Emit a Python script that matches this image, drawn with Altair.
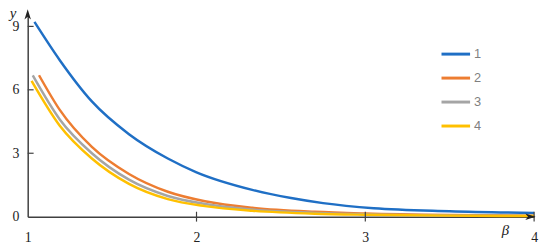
import altair as alt
import pandas as pd

series_names = ["1", "2", "3", "4"]
colors = ["#1F6FC5", "#ED7D31", "#A5A5A5", "#FFC000"]

beta_1 = [1.04, 1.19, 1.38, 1.6, 1.83, 2.0, 2.33, 2.56, 2.75, 3.05, 3.5, 4.0]
y_1 = [9.21, 7.4, 5.45, 3.9, 2.75, 2.1, 1.27, 0.88, 0.64, 0.4, 0.26, 0.18]

beta_2 = [1.067, 1.19, 1.38, 1.6, 1.83, 2.05, 2.33, 2.7, 3.0, 3.5, 4.0]
y_2 = [6.69, 5.05, 3.3, 2.02, 1.18, 0.73, 0.42, 0.23, 0.15, 0.08, 0.05]

beta_3 = [1.03, 1.19, 1.38, 1.6, 1.83, 2.05, 2.33, 2.7, 3.0, 3.5, 4.0]
y_3 = [6.68, 4.6, 3.0, 1.75, 0.98, 0.6, 0.34, 0.18, 0.11, 0.06, 0.04]

beta_4 = [1.023, 1.19, 1.38, 1.6, 1.83, 2.05, 2.33, 2.7, 3.0, 3.5, 4.0]
y_4 = [6.42, 4.3, 2.75, 1.55, 0.83, 0.5, 0.28, 0.14, 0.09, 0.05, 0.03]

x_ticks = [1, 2, 3, 4]
y_ticks = [0, 3, 6, 9]

rows = []
for name, bs, vs in zip(series_names, [beta_1, beta_2, beta_3, beta_4], [y_1, y_2, y_3, y_4]):
    for b, v in zip(bs, vs):
        rows.append({"series": name, "beta": b, "y": v})
df = pd.DataFrame(rows)

W, H = 514, 206
YMAX = 9.6
AX = "#404040"
SERIF = "Liberation Serif"

xs = alt.Scale(domain=[1, 4], nice=False, zero=False)
ys = alt.Scale(domain=[0, YMAX], nice=False, zero=True)
color = alt.Color("series:N", scale=alt.Scale(domain=series_names, range=colors), legend=None)

x_axis = alt.Axis(
    values=x_ticks, ticks=False, grid=False, title=None, format="d",
    domainColor=AX, domainWidth=1.5, labelFont=SERIF, labelFontSize=14,
    labelColor="#222222", labelPadding=14, labelFlush=False, labelOverlap=False)

lines = alt.Chart(df).mark_line(strokeWidth=2.5, interpolate="monotone").encode(
    x=alt.X("beta:Q", scale=xs, axis=x_axis),
    y=alt.Y("y:Q", scale=ys, axis=alt.Axis(
        values=y_ticks, ticks=False, grid=False, title=None, format="d",
        domainColor=AX, domainWidth=1.5, labelFont=SERIF, labelFontSize=14,
        labelColor="#222222", labelPadding=9, labelFlush=False, labelOverlap=False)),
    color=color,
)

ytick_df = pd.DataFrame({"v": [t for t in y_ticks if t != 0]})
yticks = alt.Chart(ytick_df).mark_rule(color=AX, strokeWidth=1.2).encode(
    y=alt.Y("v:Q", scale=ys, axis=None),
    x=alt.value(0), x2=alt.value(6),
)

xtick_df = pd.DataFrame({"beta": [t for t in x_ticks if t != 1]})
xticks = alt.Chart(xtick_df).mark_rule(color=AX, strokeWidth=1.2).encode(
    x=alt.X("beta:Q", scale=xs, axis=x_axis),
    y=alt.value(H - 5), y2=alt.value(H + 5),
)

one = pd.DataFrame({"a": [0]})
y_arrow = alt.Chart(one).mark_point(
    shape="M0,-1L0.6,0.9L0,0.4L-0.6,0.9Z", filled=True, size=120, color="#222222", opacity=1
).encode(x=alt.value(0), y=alt.value(1))
x_arrow = alt.Chart(one).mark_point(
    shape="M1,0L-0.9,0.6L-0.4,0L-0.9,-0.6Z", filled=True, size=120, color="#222222", opacity=1
).encode(x=alt.value(W - 4), y=alt.value(H))

y_title = alt.Chart(one).mark_text(
    text="y", font=SERIF, fontStyle="italic", fontSize=15, align="center", baseline="alphabetic", color="#222222"
).encode(x=alt.value(-15), y=alt.value(4))
x_title = alt.Chart(one).mark_text(
    text="β", font=SERIF, fontStyle="italic", fontSize=15, align="center", baseline="middle", color="#222222"
).encode(x=alt.value(485), y=alt.value(220))

leg_df = pd.DataFrame({"series": series_names})
leg_y = alt.Y("series:N", scale=alt.Scale(type="point", domain=series_names, range=[41, 114], padding=0), axis=None)
leg_lines = alt.Chart(leg_df).mark_rule(strokeWidth=3).encode(
    x=alt.value(420), x2=alt.value(449), y=leg_y, color=color,
)
leg_text = alt.Chart(leg_df).mark_text(
    align="left", baseline="middle", font="Liberation Sans", fontSize=13, color="#7F7F7F"
).encode(x=alt.value(453), y=leg_y, text="series:N")

chart = alt.layer(
    lines, yticks, xticks, y_arrow, x_arrow, y_title, x_title, leg_lines, leg_text
).resolve_scale(y="independent").properties(
    width=W, height=H,
    autosize=alt.AutoSizeParams(type="none"),
    padding={"left": 20, "top": 4, "right": 8, "bottom": 30},
    background="white",
).configure_view(stroke=None)

chart.save("out.html", embed_options={"renderer": "svg", "actions": False})
